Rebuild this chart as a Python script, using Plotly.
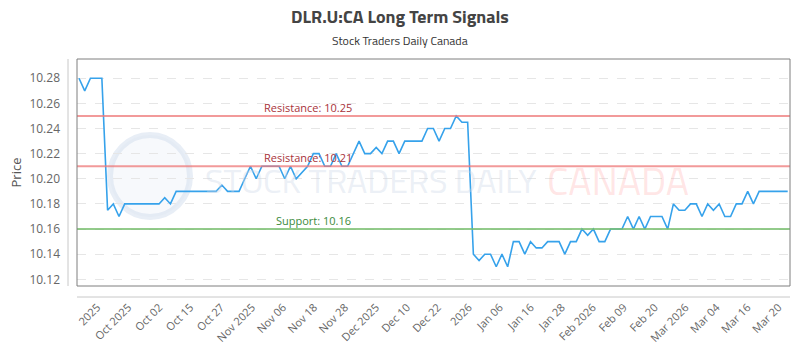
import numpy as np
import plotly.graph_objects as go

title_text = "DLR.U:CA Long Term Signals"
subtitle_text = "Stock Traders Daily Canada"

prices = [
    10.28, 10.27, 10.28, 10.28, 10.28, 10.175, 10.18, 10.17, 10.18, 10.18,
    10.18, 10.18, 10.18, 10.18, 10.18, 10.185, 10.18, 10.19, 10.19, 10.19,
    10.19, 10.19, 10.19, 10.19, 10.19, 10.195, 10.19, 10.19, 10.19, 10.20,
    10.21, 10.20, 10.21, 10.21, 10.21, 10.21, 10.20, 10.21, 10.20, 10.205,
    10.21, 10.22, 10.22, 10.21, 10.21, 10.22, 10.21, 10.21, 10.22, 10.23,
    10.22, 10.22, 10.225, 10.22, 10.23, 10.23, 10.22, 10.23, 10.23, 10.23,
    10.23, 10.24, 10.24, 10.23, 10.24, 10.24, 10.25, 10.245, 10.245, 10.14,
    10.135, 10.14, 10.14, 10.13, 10.14, 10.13, 10.15, 10.15, 10.14, 10.15,
    10.145, 10.145, 10.15, 10.15, 10.15, 10.14, 10.15, 10.15, 10.16, 10.155,
    10.16, 10.15, 10.15, 10.16, 10.16, 10.16, 10.17, 10.16, 10.17, 10.16,
    10.17, 10.17, 10.17, 10.16, 10.18, 10.175, 10.175, 10.18, 10.18, 10.17,
    10.18, 10.175, 10.18, 10.17, 10.17, 10.18, 10.18, 10.19, 10.18, 10.19,
    10.19, 10.19, 10.19, 10.19, 10.19,
]

tick_labels = [
    "2025", "Oct 2025", "Oct 02", "Oct 15", "Oct 27", "Nov 2025", "Nov 06",
    "Nov 18", "Nov 28", "Dec 2025", "Dec 10", "Dec 22", "2026", "Jan 06",
    "Jan 16", "Jan 28", "Feb 2026", "Feb 09", "Feb 20", "Mar 2026", "Mar 04",
    "Mar 16", "Mar 20",
]

level_names = ["Resistance", "Resistance", "Support"]
level_values = [10.25, 10.21, 10.16]

y_ticks = [10.12, 10.14, 10.16, 10.18, 10.20, 10.22, 10.24, 10.26, 10.28]

x = list(range(len(prices)))
tickvals = np.linspace(3.2, 122.4, len(tick_labels))

FONT = "Titillium Web, Liberation Sans Narrow, DejaVu Sans Condensed, Roboto, sans-serif"
TICKFONT = "Open Sans, Roboto, sans-serif"

PL, PR, PT, PB = 77, 790, 59, 286
PW, PH = PR - PL, PB - PT


def px_x(p):
    return (p - PL) / PW


def px_y(p):
    return (PB - p) / PH


fig = go.Figure()
fig.add_trace(go.Scatter(
    x=x, y=prices, mode="lines",
    line=dict(color="#36a2eb", width=1.6),
    hoverinfo="skip", showlegend=False,
))

line_colors = ["rgba(238,120,120,0.75)", "rgba(238,120,120,0.75)", "rgba(120,190,110,0.8)"]
text_colors = ["#a8323a", "#a8323a", "#3b8a3b"]
label_x = [40, 40, 41]
for name, val, lc, tc, lx in zip(level_names, level_values, line_colors, text_colors, label_x):
    fig.add_shape(type="line", xref="paper", x0=0, x1=1, yref="y", y0=val, y1=val,
                  line=dict(color=lc, width=2), layer="above")
    fig.add_annotation(x=lx, y=val, xref="x", yref="y", text=f"{name}: {val:.2f}",
                       showarrow=False, yanchor="bottom", yshift=-1,
                       font=dict(family=TICKFONT, size=11, color=tc))

# plot box
fig.add_shape(type="rect", xref="paper", yref="paper", x0=0, x1=1, y0=0, y1=1,
              line=dict(color="#7f7f7f", width=1), layer="above")
# offset axis lines
fig.add_shape(type="line", xref="paper", yref="paper", x0=px_x(68), x1=px_x(68), y0=0, y1=1,
              line=dict(color="#c8c8c8", width=1))
fig.add_shape(type="line", xref="paper", yref="paper", x0=0, x1=1, y0=px_y(297), y1=px_y(297),
              line=dict(color="#c8c8c8", width=1))

# watermark
fig.add_shape(type="circle", xref="paper", yref="paper",
              x0=px_x(110), x1=px_x(190), y0=px_y(217), y1=px_y(135),
              line=dict(color="rgba(205,218,235,0.45)", width=6),
              fillcolor="rgba(225,232,244,0.25)", layer="below")
fig.add_annotation(xref="paper", yref="paper", x=px_x(203), y=px_y(180), xanchor="left",
                   yanchor="middle", text="STOCK TRADERS DAILY", showarrow=False,
                   font=dict(family=FONT, size=34, color="rgba(205,215,232,0.4)"))
fig.add_annotation(xref="paper", yref="paper", x=px_x(545), y=px_y(180), xanchor="left",
                   yanchor="middle", text="CANADA", showarrow=False,
                   font=dict(family=FONT, size=39, color="rgba(255,175,175,0.32)"))

# titles
fig.add_annotation(xref="paper", yref="paper", x=px_x(400), y=px_y(16), xanchor="center",
                   yanchor="middle", text=f"<b>{title_text}</b>", showarrow=False,
                   font=dict(family=FONT, size=18, color="#444444"))
fig.add_annotation(xref="paper", yref="paper", x=px_x(400), y=px_y(40), xanchor="center",
                   yanchor="middle", text=subtitle_text, showarrow=False,
                   font=dict(family=FONT, size=12, color="#333333"))

fig.update_layout(
    width=800, height=350,
    margin=dict(l=PL, r=800 - PR, t=PT, b=350 - PB, autoexpand=False),
    paper_bgcolor="white", plot_bgcolor="white",
    showlegend=False,
    xaxis=dict(
        range=[-0.35, 124.4], tickmode="array", tickvals=tickvals, ticktext=tick_labels,
        tickangle=-45, showgrid=False, zeroline=False, showline=False, automargin=False,
        ticks="", ticklabelstandoff=12,
        tickfont=dict(family=TICKFONT, size=11, color="#666666"),
    ),
    yaxis=dict(
        range=[10.1147, 10.2953], tickmode="array", tickvals=y_ticks,
        ticktext=[f"{v:.2f}" for v in y_ticks], automargin=False,
        showgrid=True, gridcolor="#e6e6e6", griddash="dash", gridwidth=1,
        zeroline=False, showline=False, ticks="", ticklabelstandoff=16,
        tickfont=dict(family=TICKFONT, size=12, color="#666666"),
        title=dict(text="Price", font=dict(family=TICKFONT, size=13, color="#555555"), standoff=4),
    ),
)

fig.write_html("out.html")
